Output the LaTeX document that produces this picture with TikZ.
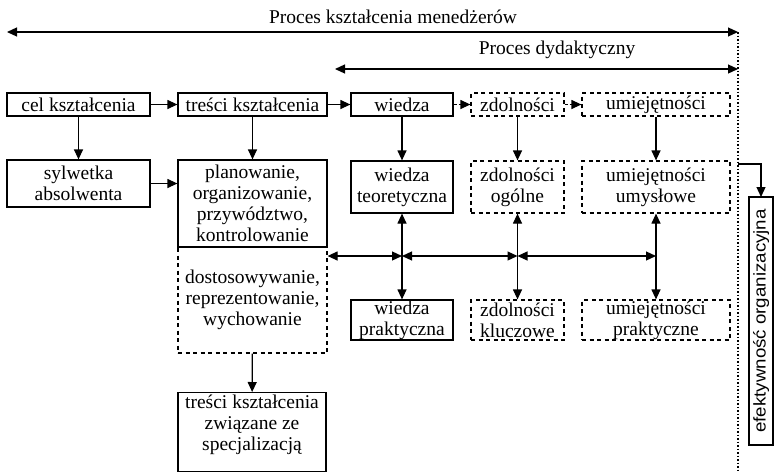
\documentclass[tikz,border=0pt]{standalone}
\usepackage{fontspec}
\setmainfont{Liberation Serif}
\newfontfamily\sansf{Liberation Sans}[FakeStretch=1.1]
\usetikzlibrary{arrows.meta}
\newcommand\bx[7]{\node[#1, minimum width={#5-#3}, minimum height={#6-#4}] (#2) at ({(#3+#5)/2},{(#4+#6)/2}) {#7};}
\begin{document}
\begin{tikzpicture}[x=1pt,y=-1pt,
  box/.style={draw, line width=1.2pt, align=center, inner sep=0pt, font=\fontsize{19.5}{21}\selectfont},
  dbox/.style={box, dash pattern=on 4pt off 3.5pt},
  arr/.style={line width=1.2pt, -{Triangle[length=10pt,width=9pt]}},
  darrow/.style={line width=1.2pt, -{Triangle[length=10pt,width=9pt]}, dash pattern=on 3pt off 2pt},
  barr/.style={line width=1.2pt, {Triangle[length=10pt,width=9pt]}-{Triangle[length=10pt,width=9pt]}},
  dotline/.style={line width=1.2pt, dash pattern=on 1.5pt off 2pt},
  title/.style={inner sep=0pt, anchor=base, font=\fontsize{19.5}{21}\selectfont}
]
\useasboundingbox (0,0) rectangle (774,472);
% titles
\node[title] (t1) at (393,23) {Proces kształcenia menedżerów};
\node[title] (t2) at (557,54) {Proces dydaktyczny};
\coordinate (tl) at (7,32);
\coordinate (tr) at (738,32);
\coordinate (dl) at (335,69);
\coordinate (dr) at (738,69);
\coordinate (bot) at (738,472);
\draw[dotline] (tr) -- (bot);
\draw[barr] (tl) -- (tr);
\draw[barr] (dl) -- (dr);
% row 1
\bx{box}{cel}{7}{93}{150}{116}{cel kształcenia}
\bx{box}{tre}{178}{93}{327}{116}{treści kształcenia}
\bx{box}{wie}{351}{93}{453}{116}{wiedza}
\bx{dbox}{zdo}{471}{93}{564}{116}{zdolności}
\bx{dbox}{umi}{582}{93}{730}{116}{umiejętności}
% row 2
\bx{box}{syl}{7}{160}{150}{207}{sylwetka\\absolwenta}
\bx{dbox}{dos}{178}{247}{327}{353}{dostosowywanie,\\reprezentowanie,\\wychowanie}
\bx{box}{pla}{178}{160}{327}{247}{planowanie,\\organizowanie,\\przywództwo,\\kontrolowanie}
\bx{box}{wT}{351}{161}{453}{213}{wiedza\\teoretyczna}
\bx{dbox}{zO}{471}{161}{564}{213}{zdolności\\ogólne}
\bx{dbox}{uU}{582}{161}{730}{213}{umiejętności\\umysłowe}
% row 3
\bx{box}{wP}{351}{300}{453}{340}{wiedza\\praktyczna}
\bx{dbox}{zK}{471}{300}{564}{340}{zdolności\\kluczowe}
\bx{dbox}{uP}{582}{300}{730}{340}{umiejętności\\praktyczne}
% specialization
\node[box, minimum width=148, minimum height=79, anchor=north] (spe) at (252,392) {};
\node[inner sep=0pt, align=center, anchor=north, font=\fontsize{19.5}{21}\selectfont] (spet) at (252,395) {treści kształcenia\\związane ze\\specjalizacją};
% efficiency
\node[box, rotate=90, minimum width=248, minimum height=24, font=\sansf\fontsize{17}{20}\selectfont] (ef) at (761,321) {efektywność organizacyjna};
% arrows row 1
\draw[arr] (cel) -- (tre);
\draw[arr] (tre) -- (wie);
\draw[darrow] (wie) -- (zdo);
\draw[darrow] (zdo) -- (umi);
% vertical arrows
\draw[arr] (cel) -- (syl);
\draw[arr] (tre) -- (pla);
\draw[arr] (wie) -- (wT);
\draw[arr] (zdo) -- (zO);
\draw[arr] (umi) -- (uU);
\draw[arr] (syl) -- (pla.west |- syl);
\draw[arr] (dos) -- (spe);
% bus
\coordinate (b1) at (402,256);
\coordinate (b2) at (517.5,256);
\coordinate (b3) at (656,256);
\draw[barr] (pla.east |- b1) -- (b1);
\draw[barr] (b1) -- (b2);
\draw[barr] (b2) -- (b3);
\draw[barr] (wT) -- (wP);
\draw[barr] (zO) -- (zK);
\draw[barr] (uU) -- (uP);
% to efficiency
\coordinate (e0) at (738,164);
\coordinate (e1) at (761,197);
\draw[arr] (e0) -| (e1);
\end{tikzpicture}
\end{document}
